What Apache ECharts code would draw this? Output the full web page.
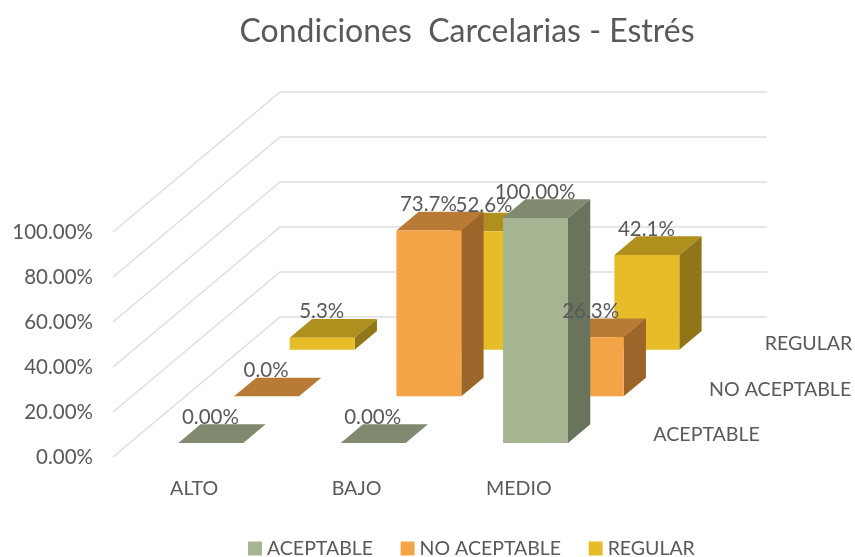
<!DOCTYPE html>
<html><head><meta charset="utf-8">
<style>html,body{margin:0;padding:0;background:#fff}#c{width:855px;height:557px}</style>
<script src="https://cdn.jsdelivr.net/npm/echarts@6/dist/echarts.min.js"></script>
</head><body><div id="c"></div>
<script>
const categories = ['ALTO', 'BAJO', 'MEDIO'];
const seriesNames = ['ACEPTABLE', 'NO ACEPTABLE', 'REGULAR'];
const aceptable = [0, 0, 1];
const noAceptable = [0, 0.737, 0.263];
const regular = [0.053, 0.526, 0.421];
const labelsAceptable = ['0.00%', '0.00%', '100.00%'];
const labelsNoAceptable = ['0.0%', '73.7%', '26.3%'];
const labelsRegular = ['5.3%', '52.6%', '42.1%'];
const yTicks = [0, 0.2, 0.4, 0.6, 0.8, 1];

const DX = 167, DY = -140, ROWS = 3, BAR = 0.4, DGAP = 0.3, DBAR = 0.4;
const FONT = '20.5px Lato, sans-serif';
const FONT2 = '19.6px Lato, sans-serif';
const TXT = '#595959';
const palette = [
  {front:'#A5B592', top:'#7F8A6F', side:'#6A735C'},
  {front:'#F3A447', top:'#B87A34', side:'#9C662B'},
  {front:'#E7BC29', top:'#AF8F1D', side:'#917618'}
];
function poly(points, fill){
  return {type:'polygon', shape:{points}, style:{fill, stroke:null}};
}
function barSeries(row){
  const c = palette[row];
  return (params, api) => {
    const p0 = api.coord([api.value(0), 0]);
    const p1 = api.coord([api.value(0), api.value(1)]);
    const w = api.size([1,0])[0] * BAR;
    const f = (row + DGAP) / ROWS, b = (row + DGAP + DBAR) / ROWS;
    const xl = p0[0] - w/2 + DX*f, xr = xl + w;
    const yb = p0[1] + DY*f, yt = p1[1] + DY*f;
    const ox = DX*(b-f), oy = DY*(b-f);
    const kids = [];
    kids.push(poly([[xl,yt],[xr,yt],[xr+ox,yt+oy],[xl+ox,yt+oy]], c.top));
    if (yb - yt > 0) {
      kids.push(poly([[xr,yb],[xr,yt],[xr+ox,yt+oy],[xr+ox,yb+oy]], c.side));
      kids.push(poly([[xl,yb],[xr,yb],[xr,yt],[xl,yt]], c.front));
    }
    return {type:'group', children:kids};
  };
}
function rowData(values){ return values.map((v,i)=>[i,v]); }
const rowValues = [aceptable, noAceptable, regular];
const rowLabels = [labelsAceptable, labelsNoAceptable, labelsRegular];
const series = [];
series.push({
  type:'custom', name:'walls', silent:true, clip:false, z:1,
  data:yTicks.map(v=>[0,v]), encode:{x:0,y:1},
  renderItem:(params, api)=>{
    const p = api.coord([0, api.value(1)]);
    const band = api.size([1,0])[0];
    const x0 = p[0] - band/2, y0 = p[1];
    const x1 = x0 + DX, y1 = y0 + DY, x2 = x1 + band*categories.length;
    return {type:'polyline', shape:{points:[[x0,y0],[x1,y1],[x2,y1]]},
      style:{stroke:'#DEDEDE', lineWidth:1.5, fill:null}};
  }
});
[2,1,0].forEach(row=>{
  series.push({
    type:'custom', name:seriesNames[row], clip:false, z:2+(2-row),
    itemStyle:{color:palette[row].front},
    data:rowData(rowValues[row]), encode:{x:0,y:1},
    renderItem:barSeries(row)
  });
});
[2,1,0].forEach(row=>{
  series.push({
    type:'custom', name:'lab'+row, silent:true, clip:false, z:10,
    data:rowData(rowValues[row]), encode:{x:0,y:1},
    renderItem:(params, api)=>{
      const p = api.coord([api.value(0), api.value(1)]);
      const f = (row + DGAP) / ROWS;
      return {type:'text', style:{
        x:p[0]+DX*f-0.5, y:p[1]+DY*f-26, text:rowLabels[row][params.dataIndex],
        font:FONT, fill:TXT, textAlign:'center', textVerticalAlign:'middle'}};
    }
  });
});
series.push({
  type:'custom', name:'depth', silent:true, clip:false, z:10,
  data:seriesNames.map((n,i)=>[categories.length-1,0]), encode:{x:0,y:1},
  renderItem:(params, api)=>{
    const p = api.coord([categories.length-1, 0]);
    const band = api.size([1,0])[0];
    const row = params.dataIndex, f = (row+0.5)/ROWS;
    return {type:'text', style:{
      x:p[0]+band/2+DX*f+25.5, y:p[1]+DY*f+1.5+row, text:seriesNames[row],
      font:FONT2, fill:TXT, textAlign:'left', textVerticalAlign:'middle'}};
  }
});
const chart = echarts.init(document.getElementById('c'), null, {renderer:'canvas'});
chart.setOption({
  animation:false,
  backgroundColor:'#fff',
  title:{text:'Condiciones  Carcelarias - Estrés', left:462, top:11, textAlign:'center',
    textStyle:{fontFamily:'Lato, sans-serif', fontSize:32, fontWeight:'normal', color:TXT}},
  grid:{left:113, top:232, width:487, height:225, containLabel:false},
  legend:{data:seriesNames, top:538.5, left:248, padding:0, itemWidth:14, itemHeight:14, itemGap:27.5,
    icon:'rect', textStyle:{fontFamily:'Lato, sans-serif', fontSize:19.5, color:TXT}},
  xAxis:{type:'category', data:categories, axisLine:{show:false}, axisTick:{show:false}, splitLine:{show:false},
    axisLabel:{margin:22, fontFamily:'Lato, sans-serif', fontSize:19.6, color:TXT}},
  yAxis:{type:'value', min:0, max:1, interval:0.2, axisLine:{show:false}, axisTick:{show:false}, splitLine:{show:false},
    axisLabel:{margin:20, fontFamily:'Lato, sans-serif', fontSize:20.5, color:TXT, padding:[4,0,0,0],
      formatter:v=>(v*100).toFixed(2)+'%'}},
  series
});
</script></body></html>
